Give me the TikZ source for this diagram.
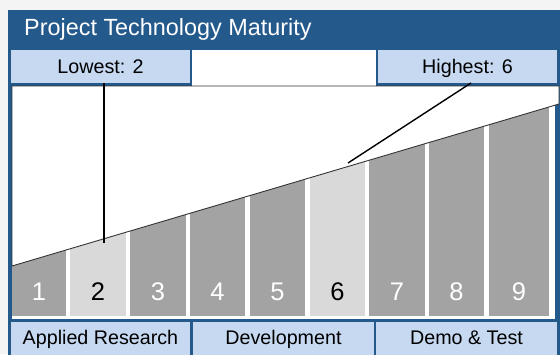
\documentclass[tikz,border=0pt]{standalone}
\usepackage{fontspec}
\setmainfont{Liberation Sans}
\definecolor{frameblue}{HTML}{24598C}
\definecolor{lightblue}{HTML}{C6D9F1}
\definecolor{bardark}{HTML}{A3A3A3}
\definecolor{barlight}{HTML}{D9D9D9}
\definecolor{bgshade}{HTML}{F4F4F4}
\begin{document}
\begin{tikzpicture}[x=1pt,y=-1pt,
  lbox/.style={fill=lightblue, draw=none, anchor=north west, inner sep=0pt, outer sep=0pt},
  wbox/.style={fill=white, draw=none, anchor=north west, inner sep=0pt, outer sep=0pt},
  lbl/.style={anchor=base, inner sep=0pt, font=\fontsize{19.7}{20}\selectfont, text=black},
  bardk/.style={fill=bardark, draw=none, anchor=north west, inner sep=0pt, outer sep=0pt, minimum height=230pt},
  barlt/.style={fill=barlight, draw=none, anchor=north west, inner sep=0pt, outer sep=0pt, minimum height=230pt},
  numw/.style={anchor=base, inner sep=0pt, font=\fontsize{25.5}{26}\selectfont, text=white},
  numb/.style={anchor=base, inner sep=0pt, font=\fontsize{25.5}{26}\selectfont, text=black},
  pointer/.style={draw=black, line width=1.4pt},
  edge/.style={draw=black!80, line width=0.9pt}
]
\useasboundingbox (0,0) rectangle (560,354);
\clip (0,0) rectangle (560,354);
\fill[bgshade] (0,0) rectangle (560,354);
\fill[frameblue] (8,10) rectangle (563,360);
\node[anchor=base west, inner sep=0pt, text=white, font=\fontsize{23.4}{24}\selectfont] (title) at (24,35) {Project Technology Maturity};
% top row
\node[lbox, minimum width=179pt, minimum height=33pt] (low) at (11,50) {};
\node[wbox, minimum width=184pt, minimum height=36pt] (mid) at (192,50) {};
\node[lbox, minimum width=179pt, minimum height=33pt] (high) at (378,50) {};
\node[lbl] (lowtxt) at (100.5,73.5) {Lowest: 2};
\node[lbl] (hightxt) at (467.5,73.5) {Highest: 6};
% chart area
\node[wbox, minimum width=543pt, minimum height=233pt] (chart) at (12,86) {};
\node[bardk, minimum width=54pt] (bar1) at (12,86) {};
\node[barlt, minimum width=56pt] (bar2) at (70,86) {};
\node[bardk, minimum width=56pt] (bar3) at (130,86) {};
\node[bardk, minimum width=55pt] (bar4) at (190,86) {};
\node[bardk, minimum width=55pt] (bar5) at (250,86) {};
\node[barlt, minimum width=55pt] (bar6) at (310,86) {};
\node[bardk, minimum width=56pt] (bar7) at (369,86) {};
\node[bardk, minimum width=55pt] (bar8) at (429,86) {};
\node[bardk, minimum width=60pt] (bar9) at (489,86) {};
\filldraw[fill=white, edge] (12,86) -- (559,86) -- (559,104) -- (12,266) -- cycle;
\node[numw] (n1) at (39,300) {1};
\node[numb] (n2) at (98,300) {2};
\node[numw] (n3) at (158,300) {3};
\node[numw] (n4) at (217.5,300) {4};
\node[numw] (n5) at (277.5,300) {5};
\node[numb] (n6) at (337.5,300) {6};
\node[numw] (n7) at (397,300) {7};
\node[numw] (n8) at (456.5,300) {8};
\node[numw] (n9) at (519,300) {9};
% pointers
\coordinate (lowtip) at (104,243);
\coordinate (hightip) at (348,163);
\draw[pointer] (lowtip |- low.south) -- (lowtip);
\draw[pointer] ([xshift=3.5pt]high.south) -- (hightip);
% bottom row
\node[lbox, minimum width=179pt, minimum height=40pt] (ar) at (11,322) {};
\node[lbox, minimum width=181pt, minimum height=40pt] (dev) at (193,322) {};
\node[lbox, minimum width=181pt, minimum height=40pt] (demo) at (376,322) {};
\node[lbl] (artxt) at (100.5,344) {Applied Research};
\node[lbl] (devtxt) at (283.5,344) {Development};
\node[lbl] (demotxt) at (466.5,344) {Demo \& Test};
\end{tikzpicture}
\end{document}
